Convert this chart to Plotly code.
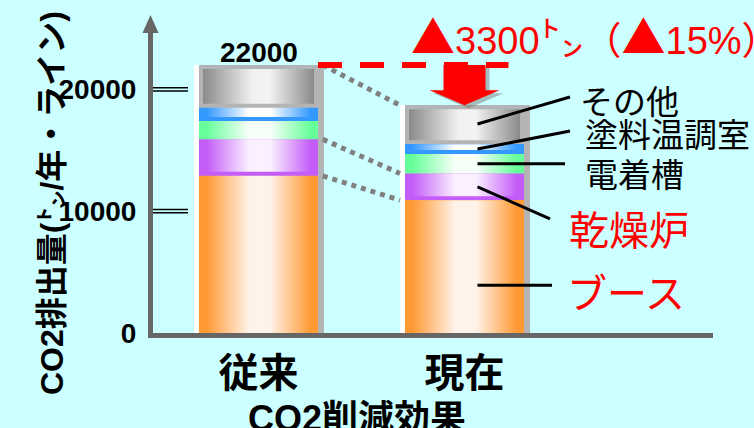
import plotly.graph_objects as go
import numpy as np

# ---- data: CO2 emissions per painting line (t / year) ----
categories = ["従来", "現在"]
sources = ["ブース", "乾燥炉", "電着槽", "塗料温調室", "その他"]
before = [12900, 3000, 1500, 1100, 3500]   # 従来
after = [10900, 2200, 1600, 800, 3200]     # 現在
y_tickvals = [0, 10000, 20000]
y_ticktext = ["0", "10000", "20000"]

label_colors = ["#FF0000", "#FF0000", "#000000", "#000000", "#000000"]

total_old = sum(before)
total_new = sum(after)
cut = total_old - total_new
cut_pct = round(100 * cut / total_old)

# ---- styling ----
BG = "#CCFFFF"
AXIS = "#666666"
FRAME = "#B4B4B4"
edge = ["#FF9933", "#C45CF8", "#66FF99", "#3399FF", "#8A8A8A"]
light = ["#FFF2E8", "#FAF0FF", "#F6FFF8", "#FFFFFF", "#F2F2F2"]
solid_band = [0, 4, 0, 4, 0]   # px of solid colour left at the bottom of a segment
JP = "Noto Sans CJK JP"
NUM = "Liberation Sans, Noto Sans CJK JP"

W, H = 754, 428
PX_X = 206.0      # pixels per category step
CX0 = 258.5       # pixel of first category centre
BASE_PX = 333.0   # pixel row of value 0
Y_PER_PX = 82.1   # value units per pixel
PLOT_L, PLOT_R, PLOT_T = 153, 713, 30

def px(xp, yp):
    """screen pixel -> data coordinates"""
    return (xp - CX0) / PX_X, (BASE_PX - yp) * Y_PER_PX

x_range = [px(PLOT_L, 0)[0], px(PLOT_R, 0)[0]]
y_range = [0, px(0, PLOT_T)[1]]

hw = 59.5 / PX_X        # half width of the coloured column
strip = 5 / PX_X        # white highlight on the left
rim = 6 / PX_X          # grey rim on the right
inset_x = 4 / PX_X
inset_y = 4 * Y_PER_PX

xs = np.arange(len(categories), dtype=float)
stacks = [before, after]
bottoms = [np.concatenate([[0], np.cumsum(s)[:-1]]) for s in stacks]
totals = [total_old, total_new]

fig = go.Figure()

# column body: white edge + grey frame
fig.add_trace(go.Bar(x=xs, y=totals, width=strip, offset=-hw - strip,
                     marker=dict(color="white", line_width=0), hoverinfo="skip"))
fig.add_trace(go.Bar(x=xs, y=totals, width=2 * hw + rim, offset=-hw,
                     marker=dict(color=FRAME, line_width=0), hoverinfo="skip"))

# stacked segments (solid base colours)
for i, name in enumerate(sources):
    col = FRAME if i == len(sources) - 1 else edge[i]
    fig.add_trace(go.Bar(x=xs, y=[before[i], after[i]],
                         base=[bottoms[0][i], bottoms[1][i]],
                         width=2 * hw, offset=-hw, name=name,
                         marker=dict(color=col, line_width=0)))

# cylinder-like horizontal shading on every segment
def shade(e, l, soft=False):
    if soft:
        return [[0, e], [0.45, l], [0.6, l], [1, e]]
    return [[0, e], [0.06, e], [0.42, l], [0.6, l], [0.94, e], [1, e]]

for c, (stack, bots) in enumerate(zip(stacks, bottoms)):
    for i in range(len(sources)):
        b, t = bots[i] + solid_band[i] * Y_PER_PX, bots[i] + stack[i]
        l, r = xs[c] - hw, xs[c] + hw
        last = i == len(sources) - 1
        if last:
            l, r, b, t = l + inset_x, r - inset_x, b + inset_y, t - inset_y
        fig.add_trace(go.Scatter(
            x=[l, r, r, l, l], y=[b, b, t, t, b], mode="lines",
            line=dict(width=0), fill="toself",
            fillgradient=dict(type="horizontal",
                              colorscale=shade(edge[i], light[i], soft=last)),
            hoverinfo="skip", showlegend=False))

# grey dotted connectors between the two columns
x_from = xs[0] + hw + rim * 0.8
x_to = xs[1] - hw - strip
cum_old = np.cumsum(before)
cum_new = np.cumsum(after)
for k in [len(sources) - 1, 1, 0]:
    fig.add_trace(go.Scatter(x=[x_from, x_to], y=[cum_old[k], cum_new[k]],
                             mode="lines", line=dict(color="#808080", width=5, dash="dot"),
                             hoverinfo="skip", showlegend=False))

# red dashed reference at the previous total
fig.add_trace(go.Scatter(x=[xs[0] + hw, xs[1] + 44 / PX_X], y=[total_old, total_old],
                         mode="lines", line=dict(color="#FF0000", width=6, dash="24px,18px"),
                         hoverinfo="skip", showlegend=False))

# red down arrow from old total to new total
shaft = 21 / PX_X
head = 35 / PX_X
head_top = total_new + 0.37 * (total_old - total_new)
ax_ = xs[1]
arrow_x = np.array([ax_ - shaft, ax_ + shaft, ax_ + shaft, ax_ + head, ax_,
                    ax_ - head, ax_ - shaft, ax_ - shaft])
arrow_y = np.array([total_old, total_old, head_top, head_top, total_new,
                    head_top, head_top, total_old])
fig.add_trace(go.Scatter(x=arrow_x + 4 / PX_X, y=arrow_y - 3 * Y_PER_PX, mode="lines",
                         line=dict(width=0), fill="toself", fillcolor="rgba(110,110,110,0.45)",
                         hoverinfo="skip", showlegend=False))
fig.add_trace(go.Scatter(x=arrow_x, y=arrow_y, mode="lines", line=dict(width=0),
                         fill="toself", fillcolor="#FF0000",
                         hoverinfo="skip", showlegend=False))

# leader lines and labels for the current column
lead_frac = [0.36, 0.5, 0.5, 0.5, 0.52]       # where the line meets the segment
lead_end = [(552, 0), (550, 32), (565, 0), (570, -18), (570, -27)]  # end x px, dy px
label_gap = [(13, 6), (17, 9), (18, 9), (13, 2), (8, 3)]
label_size = [40, 40, 33, 33, 33]
annotations = []
for i, name in enumerate(sources):
    y0 = bottoms[1][i] + lead_frac[i] * after[i]
    x0 = xs[1] + 13 / PX_X
    ex_px, dy = lead_end[i]
    y0_px = BASE_PX - y0 / Y_PER_PX
    ex, ey = px(ex_px, y0_px + dy)
    fig.add_trace(go.Scatter(x=[x0, ex], y=[y0, ey], mode="lines",
                             line=dict(color="black", width=3),
                             hoverinfo="skip", showlegend=False))
    lx, ly = px(ex_px + label_gap[i][0], y0_px + dy + label_gap[i][1])
    annotations.append(dict(x=lx, y=ly, xref="x", yref="y", text=name, showarrow=False,
                            xanchor="left", yanchor="middle",
                            font=dict(family=JP, size=label_size[i], color=label_colors[i])))

# total label above the old column
annotations.append(dict(x=xs[0], y=total_old, xref="x", yref="y", text=f"{total_old}",
                        showarrow=False, yanchor="middle", yshift=13,
                        font=dict(family=NUM, size=28, color="black", weight="bold")))

# reduction headline
tri = f"<span style=\"font-family:'{JP}';font-size:44px\">▲</span>"
ton = "<span style=\"font-size:44px\">㌧</span>"
tx, ty = px(595, 35)
annotations.append(dict(x=tx, y=ty, xref="x", yref="y",
                        text=f"{tri}{cut}{ton}（{tri}{cut_pct}%）", showarrow=False,
                        font=dict(family=NUM, size=38, color="#FF0000")))

# axis titles
annotations.append(dict(x=32 / W, y=1 - 203 / H, xref="paper", yref="paper",
                        text="CO2排出量(㌧/年・ライン)", textangle=-90, showarrow=False,
                        font=dict(family=NUM, size=32, color="black", weight="bold")))
annotations.append(dict(x=357 / W, y=1 - 396 / H, xref="paper", yref="paper",
                        text="CO2削減効果", showarrow=False, yanchor="top",
                        font=dict(family=NUM, size=36, color="black", weight="bold")))

# double tick marks on the value axis and arrow head on its top
shapes = []
for v in y_tickvals[1:]:
    for d in (-1.6, 1.6):
        shapes.append(dict(type="line", xref="x", yref="y",
                           x0=x_range[0], x1=x_range[0] + 35 / PX_X,
                           y0=v + d * Y_PER_PX, y1=v + d * Y_PER_PX,
                           line=dict(color="black", width=1.5)))
ax_px = PLOT_L - 2.5
shapes.append(dict(type="path", xref="paper", yref="paper",
                   path=f"M {(ax_px - 8) / W},{1 - (PLOT_T + 3) / H} "
                        f"L {(ax_px + 8) / W},{1 - (PLOT_T + 3) / H} "
                        f"L {ax_px / W},{1 - 15 / H} Z",
                   fillcolor=AXIS, line=dict(width=0)))

fig.update_layout(
    width=W, height=H, margin=dict(l=0, r=0, t=0, b=0, autoexpand=False),
    paper_bgcolor=BG, plot_bgcolor=BG,
    barmode="overlay", bargap=0, showlegend=False,
    annotations=annotations, shapes=shapes,
    xaxis=dict(domain=[PLOT_L / W, PLOT_R / W], range=x_range, automargin=False,
               showline=True, linecolor=AXIS, linewidth=5, showgrid=False,
               zeroline=False, tickvals=list(xs), ticktext=categories, ticks="",
               tickfont=dict(family=JP, size=40, color="black", weight="bold"),
               ticklabelstandoff=1),
    yaxis=dict(domain=[1 - BASE_PX / H, 1 - PLOT_T / H], range=y_range, automargin=False,
               showline=True, linecolor=AXIS, linewidth=5, showgrid=False,
               zeroline=False, tickvals=y_tickvals, ticktext=y_ticktext, ticks="",
               tickfont=dict(family=NUM, size=28, color="black", weight="bold"),
               ticklabelstandoff=6),
)

fig.write_html("out.html")
